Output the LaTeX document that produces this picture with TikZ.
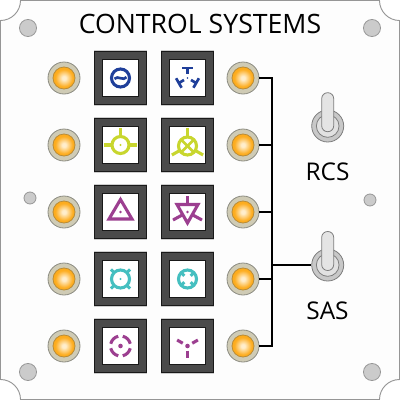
\documentclass[tikz,border=0pt]{standalone}
\usepackage{fontspec}
\setmainfont{Open Sans}
\usepackage{tikz}

\definecolor{iconblue}{RGB}{31,63,154}
\definecolor{icongreen}{RGB}{200,214,46}
\definecolor{iconpurple}{RGB}{156,63,144}
\definecolor{iconteal}{RGB}{69,191,192}
\definecolor{lampcore}{RGB}{255,238,205}
\definecolor{lamprim}{RGB}{253,172,30}
\pgfdeclareradialshading{lampshade}{\pgfpoint{0bp}{0bp}}{color(0bp)=(lampcore); color(4bp)=(lampcore); color(20bp)=(lamprim); color(50bp)=(lamprim)}

\tikzset{
  lamp/.style={circle,draw={rgb,255:red,140;green,140;blue,130},fill={rgb,255:red,207;green,203;blue,181},line width=0.6pt,minimum size=24pt,inner sep=0pt},
  lampglow/.style={circle,draw={rgb,255:red,185;green,140;blue,55},shading=lampshade,line width=0.6pt,minimum size=16.5pt,inner sep=0pt},
  tilebase/.style={rectangle,fill={rgb,255:red,205;green,205;blue,205},minimum width=39.8pt,minimum height=42pt,inner sep=0pt},
  tile/.style={rectangle,draw={rgb,255:red,25;green,25;blue,25},fill={rgb,255:red,74;green,74;blue,74},line width=0.6pt,minimum width=39.5pt,minimum height=40pt,inner sep=0pt},
  tileface/.style={rectangle,draw={rgb,255:red,25;green,25;blue,25},fill=white,line width=0.6pt,minimum size=27.4pt,inner sep=0pt},
  screwbig/.style={circle,draw={rgb,255:red,150;green,150;blue,150},fill={rgb,255:red,203;green,203;blue,203},line width=0.6pt,minimum size=12.8pt,inner sep=0pt},
  screwsmall/.style={circle,draw={rgb,255:red,150;green,150;blue,150},fill={rgb,255:red,203;green,203;blue,203},line width=0.6pt,minimum size=9pt,inner sep=0pt},
  switchbase/.style={circle,draw={rgb,255:red,125;green,125;blue,125},fill={rgb,255:red,200;green,200;blue,200},line width=0.6pt,minimum size=24pt,inner sep=0pt},
  switchring/.style={circle,draw={rgb,255:red,125;green,125;blue,125},fill={rgb,255:red,225;green,225;blue,225},line width=0.6pt,minimum size=17pt,inner sep=0pt},
  switchlever/.style={rounded corners=4.4pt,draw={rgb,255:red,125;green,125;blue,125},fill={rgb,255:red,228;green,228;blue,228},line width=0.6pt},
  wire/.style={draw=black,line width=1.5pt},
  icon/.style={line width=2.3pt},
  thinicon/.style={line width=2pt}
}

\begin{document}
\begin{tikzpicture}[x=0.75pt,y=0.75pt,yscale=-1]
  \useasboundingbox (0,0) rectangle (400,400);

  %Shape: Panel
  \draw [draw={rgb,255:red,150;green,150;blue,150},fill={rgb,255:red,253;green,253;blue,253},line width=0.7pt]
    (20.5,0.5) -- (379.5,0.5) .. controls (379.5,11.5) and (388.5,20.5) .. (399.5,20.5)
    -- (399.5,379.5) .. controls (388.5,379.5) and (379.5,388.5) .. (379.5,399.5)
    -- (20.5,399.5) .. controls (20.5,388.5) and (11.5,379.5) .. (0.5,379.5)
    -- (0.5,20.5) .. controls (11.5,20.5) and (20.5,11.5) .. (20.5,0.5) -- cycle;

  %Screws
  \node [screwbig] (screwTL) at (28,28) {};
  \node [screwbig] (screwTR) at (372,28) {};
  \node [screwbig] (screwBL) at (28,372) {};
  \node [screwbig] (screwBR) at (372,372) {};
  \node [screwsmall] (screwL) at (30,198) {};
  \node [screwsmall] (screwR) at (370,200) {};

  %Lamps and tiles, one row at a time
  \foreach \r/\y in {1/78,2/145,3/212,4/279,5/346}{
    \node [lamp] (lampL\r) at (64,\y) {};
    \node [lampglow] at (lampL\r) {};
    \node [lamp] (lampR\r) at (243,\y) {};
    \node [lampglow] at (lampR\r) {};
    \node [tilebase] at (120.5,\y) {};
    \node [tile] (tileA\r) at (120.5,\y) {};
    \node [tileface] at (tileA\r) {};
    \node [tilebase] at (187.5,\y) {};
    \node [tile] (tileB\r) at (187.5,\y) {};
    \node [tileface] at (tileB\r) {};
  }

  %Straight Lines
  \coordinate (busTop) at (272,78);
  \coordinate (busBot) at (272,346);
  \coordinate (busSas) at (272,265);
  \draw [wire,line cap=rect] (busTop) -- (busBot);
  \foreach \r in {1,...,5}{
    \draw [wire] (lampR\r) -- (lampR\r -| busTop);
  }

  %Switches
  \node [switchbase] (switchRcs) at (327.7,126) {};
  \node [switchring] at (switchRcs) {};
  \draw [switchlever] (321.7,131.7) rectangle (333.7,92.7);
  \node [switchbase] (switchSas) at (327.7,265) {};
  \node [switchring] at (switchSas) {};
  \draw [switchlever] (321.7,270.5) rectangle (333.7,231.5);
  \draw [line width=1.2pt] (busSas) -- (switchSas);

  %Icon: blue circle with tilde
  \begin{scope}[shift={(120.5,78)},iconblue]
    \draw [icon] (0,0) circle (9);
    \draw [thinicon] (-6,0.8) .. controls (-3,-3) and (3,3.5) .. (6,-0.8);
  \end{scope}
  %Icon: blue three tees
  \begin{scope}[shift={(187.5,78)},iconblue]
    \foreach \a in {0,120,240}{
      \begin{scope}[rotate=\a]
        \draw [thinicon] (-5.5,-10) -- (5.5,-10);
        \draw [thinicon] (0,-10) -- (0,-4);
      \end{scope}
    }
    \fill (0,0) circle (0.8);
  \end{scope}
  %Icon: green circle with three arms
  \begin{scope}[shift={(120.5,145)},icongreen]
    \draw [icon] (0,0) circle (8.5);
    \draw [icon] (0,-8.5) -- (0,-17);
    \draw [icon] (-8.5,0) -- (-16.5,0);
    \draw [icon] (8.5,0) -- (16.5,0);
    \fill (0,0) circle (1.2);
  \end{scope}
  %Icon: green crossed circle with three arms
  \begin{scope}[shift={(187.5,146)},icongreen]
    \draw [icon] (0,0) circle (9);
    \draw [thinicon] (-6.4,-6.4) -- (6.4,6.4);
    \draw [thinicon] (-6.4,6.4) -- (6.4,-6.4);
    \draw [icon] (270:9) -- (270:18);
    \draw [icon] (150:9) -- (150:18);
    \draw [icon] (30:9) -- (30:18);
  \end{scope}
  %Icon: purple triangle
  \begin{scope}[shift={(120.5,212)},iconpurple]
    \draw [icon,miter limit=10] (0,-12.5) -- (11.5,7) -- (-11.5,7) -- cycle;
    \fill (0,0) circle (1.3);
  \end{scope}
  %Icon: purple inverted triangle with arms
  \begin{scope}[shift={(187.5,212)},iconpurple]
    \draw [icon] (-10.5,-7.5) -- (10.5,-7.5) -- (0,11) -- cycle;
    \draw [icon] (0,-7.5) -- (0,-16);
    \draw [icon] (-5.3,3) -- (-14.5,8);
    \draw [icon] (5.3,3) -- (14.5,8);
    \fill (0,0) circle (1.3);
  \end{scope}
  %Icon: teal circle with outer ticks
  \begin{scope}[shift={(120.5,279)},iconteal]
    \draw [icon] (0,0) circle (9);
    \foreach \a in {45,135,225,315}{
      \draw [icon] (\a:8.5) -- (\a:13.5);
    }
    \fill (0,0) circle (1.2);
  \end{scope}
  %Icon: teal circle with inner ticks
  \begin{scope}[shift={(187.5,279)},iconteal]
    \draw [icon] (0,0) circle (9);
    \foreach \a in {45,135,225,315}{
      \draw [icon] (\a:9) -- (\a:4.5);
    }
  \end{scope}
  %Icon: purple broken circle
  \begin{scope}[shift={(120.5,346)},iconpurple]
    \foreach \a in {0,90,180,270}{
      \draw [icon] (\a+13:10) arc (\a+13:\a+77:10);
    }
    \fill (0,0) circle (2.3);
  \end{scope}
  %Icon: purple three spokes
  \begin{scope}[shift={(187.5,346)},iconpurple]
    \draw [icon] (90:4.5) -- (90:11.5);
    \draw [icon] (330:5.5) -- (330:12);
    \draw [icon] (210:5.5) -- (210:12);
    \fill (0,0) circle (2.3);
  \end{scope}

  % Text Node
  \node [font=\fontsize{20}{22}\selectfont] (titleText) at (200,24) {CONTROL SYSTEMS};
  % Text Node
  \node [font=\fontsize{18.3}{20}\selectfont] (rcsText) at (327.5,172) {RCS};
  % Text Node
  \node [font=\fontsize{18.3}{20}\selectfont] (sasText) at (327.5,311) {SAS};
\end{tikzpicture}
\end{document}
